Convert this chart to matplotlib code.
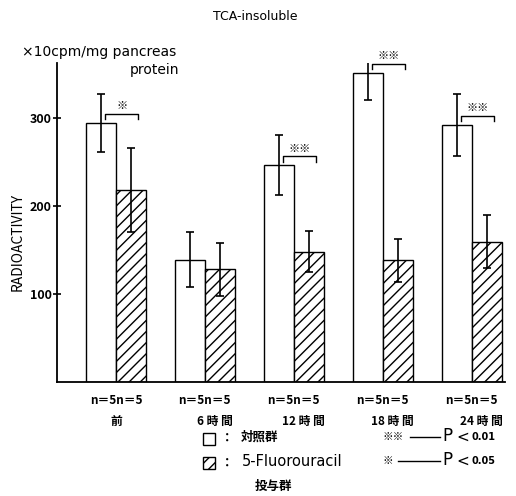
import numpy as np
import matplotlib
matplotlib.use('Agg')
import matplotlib.pyplot as plt
from matplotlib.patches import Rectangle
from matplotlib.lines import Line2D

plt.rcParams['font.family'] = ['Noto Sans CJK JP', 'DejaVu Sans']
plt.rcParams['hatch.linewidth'] = 1.0

# data (x10 cpm/mg pancreas protein)
groups = ['前', '6 時 間', '12 時 間', '18 時 間', '24 時 間']
n_labels = ['n＝5n＝5'] * 5
control = [294, 139, 246, 351, 292]
control_err = [33, 31, 34, 31, 35]
fu = [218, 128, 148, 138, 159]
fu_err = [48, 30, 23, 24, 30]
signif = ['※', '', '※※', '※※', '※※']

W, H = 516, 496
LATIN = ['DejaVu Sans']

def px(x, y):
    return x / W, 1 - y / H

fig = plt.figure(figsize=(W / 100, H / 100), dpi=100)
ax = fig.add_axes([57 / W, 1 - 382 / H, (505 - 57) / W, (382 - 63) / H])

x = np.arange(len(groups))
bw = 0.34
ax.bar(x - bw / 2, control, bw, color='white', edgecolor='black', linewidth=1.0)
ax.bar(x + bw / 2, fu, bw, color='white', edgecolor='black', linewidth=1.0, hatch='///')
ax.errorbar(x - bw / 2, control, yerr=control_err, fmt='none', ecolor='black',
            elinewidth=1.2, capsize=3, capthick=1.2)
ax.errorbar(x + bw / 2, fu, yerr=fu_err, fmt='none', ecolor='black',
            elinewidth=1.2, capsize=3, capthick=1.2)

# significance brackets
for i in range(len(groups)):
    if not signif[i]:
        continue
    y = control[i] + 10
    x0 = x[i] - bw / 2 + 0.05
    x1 = x[i] + bw / 2 + 0.08
    ax.plot([x0, x0, x1, x1], [y - 6, y, y, y - 6], color='black', lw=1.0)
    ax.text((x0 + x1) / 2, y + 3, signif[i], ha='center', va='bottom', fontsize=8)

ax.set_xlim(-0.66, 4.37)
ax.set_ylim(0, 362)
ax.set_yticks([100, 200, 300])
ax.tick_params(axis='y', direction='inout', length=6, labelsize=9, pad=1, width=1.2)
for lab in ax.get_yticklabels():
    lab.set_fontweight('bold')
ax.set_xticks([])
ax.spines['top'].set_visible(False)
ax.spines['right'].set_visible(False)
ax.spines['left'].set_linewidth(1.3)
ax.spines['bottom'].set_linewidth(1.3)

# x labels
for i in range(len(groups)):
    fig.text(*px(116 + 88.75 * i, 401), n_labels[i], ha='center', va='center',
             fontsize=8.5, fontweight='bold')
    fig.text(*px(116 + 88.75 * i + (0 if i == 0 else 10), 421), groups[i],
             ha='center', va='center', fontsize=8.5, fontweight='bold')

fig.text(*px(255, 17), 'TCA-insoluble', ha='center', va='center', fontsize=9,
         family=LATIN)
fig.text(*px(22, 52), '×10cpm/mg pancreas', ha='left', va='center', fontsize=10,
         family=LATIN)
fig.text(*px(130, 70), 'protein', ha='left', va='center', fontsize=10, family=LATIN)
fig.text(*px(18, 242), 'RADIOACTIVITY', ha='center', va='center', rotation=90,
         fontsize=10)

# legend
fig.add_artist(Rectangle(px(203, 445), 12 / W, 12 / H, transform=fig.transFigure,
                         facecolor='white', edgecolor='black', lw=1.0))
fig.add_artist(Rectangle(px(203, 469), 12 / W, 12 / H, transform=fig.transFigure,
                         facecolor='white', edgecolor='black', lw=1.0, hatch='///'))
fig.text(*px(221, 438), '：', ha='left', va='center', fontsize=9, fontweight='bold')
fig.text(*px(241, 437), '対照群', ha='left', va='center', fontsize=9, fontweight='bold')
fig.text(*px(221, 463), '：', ha='left', va='center', fontsize=9, fontweight='bold')
fig.text(*px(242, 462), '5-Fluorouracil', ha='left', va='center', fontsize=10.5,
         family=LATIN)
fig.text(*px(255, 486), '投与群', ha='left', va='center', fontsize=9, fontweight='bold')

rows = [('※※', 437, 410, '0.01'), ('※', 461, 398, '0.05')]
for stars, yy, lstart, pval in rows:
    fig.text(*px(383, yy), stars, ha='left', va='center', fontsize=7.5)
    fx0, fy = px(lstart, yy)
    fx1, _ = px(440, yy)
    fig.add_artist(Line2D([fx0, fx1], [fy, fy], transform=fig.transFigure,
                          color='black', lw=1.0))
    fig.text(*px(442, yy - 1), 'P', ha='left', va='center', fontsize=12,
             family=LATIN)
    fig.text(*px(456, yy), '<', ha='left', va='center', fontsize=11,
             family=LATIN)
    fig.text(*px(471, yy), pval, ha='left', va='center', fontsize=7,
             fontweight='bold', family=LATIN)

fig.savefig('out.png', dpi=100)
